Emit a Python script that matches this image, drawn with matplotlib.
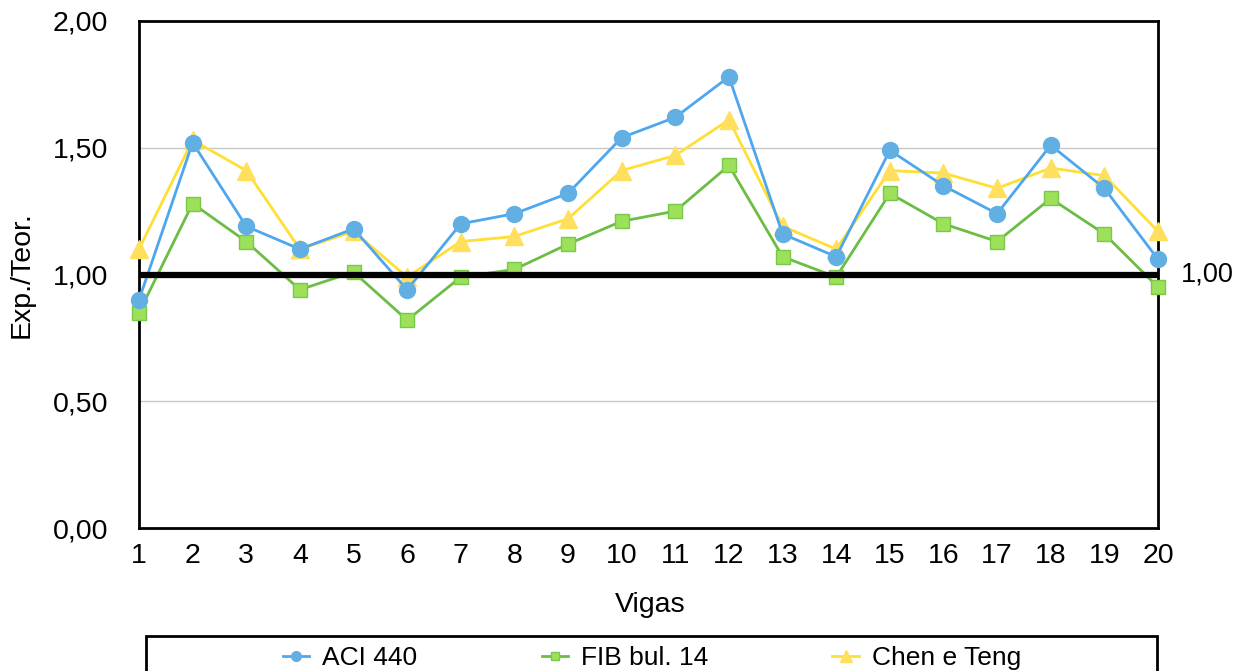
import matplotlib
matplotlib.use("Agg")
import matplotlib.pyplot as plt
from matplotlib.patches import Rectangle
from matplotlib.lines import Line2D

vigas = list(range(1, 21))
aci440 = [0.90, 1.52, 1.19, 1.10, 1.18, 0.94, 1.20, 1.24, 1.32, 1.54,
          1.62, 1.78, 1.16, 1.07, 1.49, 1.35, 1.24, 1.51, 1.34, 1.06]
fib14 = [0.85, 1.28, 1.13, 0.94, 1.01, 0.82, 0.99, 1.02, 1.12, 1.21,
         1.25, 1.43, 1.07, 0.99, 1.32, 1.20, 1.13, 1.30, 1.16, 0.95]
chen_teng = [1.10, 1.53, 1.41, 1.10, 1.17, 0.99, 1.13, 1.15, 1.22, 1.41,
             1.47, 1.61, 1.19, 1.10, 1.41, 1.40, 1.34, 1.42, 1.39, 1.17]
series_names = ["ACI 440", "FIB bul. 14", "Chen e Teng"]
yticks = [0.0, 0.5, 1.0, 1.5, 2.0]
ref_value = 1.0

plt.rcParams['font.family'] = ['Liberation Sans', 'DejaVu Sans']

W, H = 1236, 671
FS = 20.5
fig = plt.figure(figsize=(W / 100, H / 100), dpi=100)
ax = fig.add_axes([139 / W, 1 - 528 / H, (1158 - 139) / W, (528 - 21) / H])

blue_line, blue_mk = "#4EA7EE", "#62AFE3"
green_line, green_mk, green_edge = "#6CBD43", "#9DE05A", "#78C84A"
yel_line, yel_mk = "#FFDF33", "#FFE05E"

ax.plot(vigas, chen_teng, color=yel_line, lw=2.0, marker="^", ms=13,
        mfc=yel_mk, mec=yel_mk, clip_on=False, zorder=3)
ax.plot(vigas, fib14, color=green_line, lw=2.0, marker="s", ms=10.5,
        mfc=green_mk, mec=green_edge, mew=1.0, clip_on=False, zorder=4)
ax.plot(vigas, aci440, color=blue_line, lw=2.0, marker="o", ms=11.5,
        mfc=blue_mk, mec=blue_mk, clip_on=False, zorder=5)

ax.axhline(ref_value, color="black", lw=4.5, zorder=6)

ax.set_xlim(1, 20)
ax.set_ylim(0, 2)
ax.set_xticks(vigas)
ax.set_xticklabels([str(v) for v in vigas])
ax.set_yticks(yticks)
ax.set_yticklabels([f"{v:.2f}".replace(".", ",") for v in yticks])
for y in [0.5, 1.5]:
    ax.axhline(y, color="#C8C8C8", lw=1.0, zorder=1)

for s in ax.spines.values():
    s.set_linewidth(2.0)
    s.set_color("black")
ax.tick_params(axis='both', length=0, labelsize=FS)
ax.tick_params(axis='x', pad=11)
ax.tick_params(axis='y', pad=22)

ax.annotate(f"{ref_value:.2f}".replace(".", ","), xy=(1.0, ref_value),
            xycoords=ax.get_yaxis_transform(), xytext=(16.5, 0),
            textcoords="offset points", ha="left", va="center", fontsize=19.5,
            annotation_clip=False)

fig.text(22 / W, 1 - 275 / H, "Exp./Teor.", rotation=90, ha="center",
         va="center", fontsize=FS)
fig.text(650 / W, 1 - 605 / H, "Vigas", ha="center", va="center", fontsize=FS)

# legend frame
fig.patches.append(Rectangle((146 / W, -0.05), (1157 - 146) / W,
                             1 - 636 / H + 0.05, transform=fig.transFigure,
                             fill=False, edgecolor="black", lw=2.0))

handles = [
    Line2D([], [], color=blue_line, lw=2, marker="o", ms=7, mfc=blue_mk, mec=blue_mk),
    Line2D([], [], color=green_line, lw=2, marker="s", ms=6, mfc=green_mk, mec=green_edge),
    Line2D([], [], color=yel_line, lw=2, marker="^", ms=8, mfc=yel_mk, mec=yel_mk),
]
fig.legend(handles, series_names, loc="center", bbox_to_anchor=(652 / W, 1 - 658 / H),
           ncol=3, frameon=False, fontsize=19, handlelength=1.0,
           handletextpad=0.5, columnspacing=4.7, borderpad=0)

fig.savefig("out.png", dpi=100)
